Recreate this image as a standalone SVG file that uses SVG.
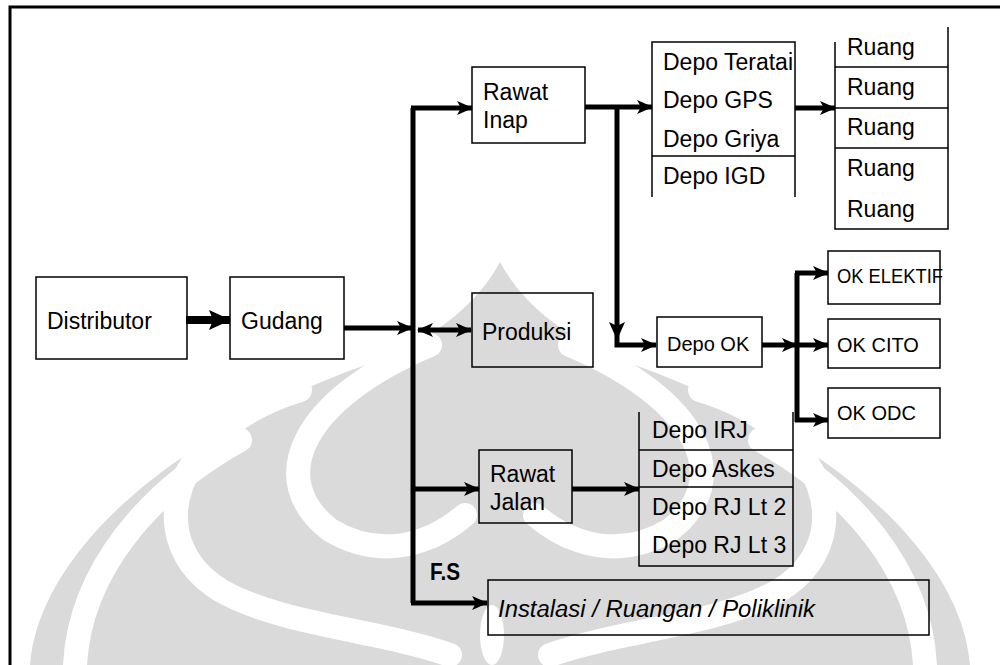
<svg xmlns="http://www.w3.org/2000/svg" width="1000" height="665" viewBox="0 0 1000 665">
<style>
text{font-family:"Liberation Sans",Arial,sans-serif;font-size:23px;fill:#000}
.sm{font-size:20px}
.box{fill:none;stroke:#000;stroke-width:1.5}
.wbox{fill:#fff;stroke:#000;stroke-width:1.5}
.ln{fill:none;stroke:#000;stroke-width:1.5}
.c{fill:none;stroke:#000;stroke-width:5}
.wm{fill:#dadada}
.wb{fill:none;stroke:#fff;stroke-width:24;stroke-linecap:round}
</style>
<defs>
<marker id="ah" markerWidth="16" markerHeight="14" refX="15" refY="7" orient="auto-start-reverse" markerUnits="userSpaceOnUse">
<path d="M0,0 L16,7 L0,14 L4,7 Z" fill="#000"/>
</marker>
<marker id="ahb" markerWidth="22" markerHeight="20" refX="21" refY="10" orient="auto" markerUnits="userSpaceOnUse">
<path d="M0,0 L22,10 L0,20 L4,10 Z" fill="#000"/>
</marker>
</defs>
<rect width="1000" height="665" fill="#fff"/>
<g id="watermark">
<path class="wm" d="M30,665 C40,540 200,420 380,360 C440,335 480,300 500,262 C520,300 560,335 620,360 C800,420 960,540 970,665 Z"/>
<path class="wb" d="M75,665 C80,570 150,490 240,440"/>
<path class="wb" d="M925,665 C920,570 850,490 760,440"/>
<path class="wb" d="M300,390 C170,430 140,540 220,590 C280,625 380,630 450,655"/>
<path class="wb" d="M700,390 C830,430 860,540 780,590 C720,625 620,630 550,655"/>
<path class="wb" d="M430,345 C300,400 265,480 330,530 C380,560 430,545 465,515"/>
<path class="wb" d="M570,345 C700,400 735,480 670,530 C620,560 570,545 535,515"/>
<ellipse cx="492" cy="635" rx="12" ry="30" fill="#fff"/>
</g>
<g id="frame" fill="none" stroke="#000" stroke-width="3">
<path d="M10,665 V7 H1000"/>
</g>
<g id="connectors">
<line x1="186" y1="320" x2="230" y2="320" stroke="#000" stroke-width="8" marker-end="url(#ahb)"/>
<line x1="344" y1="328" x2="412" y2="328" class="c" stroke-width="4" marker-end="url(#ah)"/>
<path class="c" d="M413,603 V108"/>
<line x1="411" y1="108" x2="472" y2="108" class="c" marker-end="url(#ah)"/>
<line x1="418" y1="330" x2="471" y2="330" class="c" stroke-width="4" marker-start="url(#ah)" marker-end="url(#ah)"/>
<line x1="411" y1="489" x2="479" y2="489" class="c" marker-end="url(#ah)"/>
<line x1="411" y1="603" x2="487" y2="603" class="c" marker-end="url(#ah)"/>
<line x1="585" y1="107" x2="652" y2="107" class="c" marker-end="url(#ah)"/>
<path class="c" d="M617,107 V345 H656" marker-end="url(#ah)"/>
<path d="M609,322 L617,340 L625,322 L617,326 Z" fill="#000"/>
<line x1="795" y1="108" x2="835" y2="108" class="c" stroke-width="6" marker-end="url(#ah)"/>
<line x1="762" y1="345" x2="797" y2="345" class="c" marker-end="url(#ah)"/>
<path class="c" d="M797,273 V422"/>
<line x1="795" y1="273" x2="828" y2="273" class="c" marker-end="url(#ah)"/>
<line x1="795" y1="345" x2="828" y2="345" class="c" marker-end="url(#ah)"/>
<line x1="795" y1="420" x2="828" y2="420" class="c" marker-end="url(#ah)"/>
<line x1="572" y1="489" x2="639" y2="489" class="c" stroke-width="6" marker-end="url(#ah)"/>
</g>
<g id="distributor">
<rect class="box" x="36" y="277" width="151" height="82"/>
<text x="47" y="329">Distributor</text>
</g>
<g id="gudang">
<rect class="box" x="230" y="277" width="114" height="82"/>
<text x="241" y="329">Gudang</text>
</g>
<g id="rawat-inap">
<rect class="box" x="472" y="67" width="113" height="76"/>
<text x="483" y="100">Rawat</text>
<text x="483" y="128">Inap</text>
</g>
<g id="produksi">
<rect class="box" x="472" y="293" width="121" height="74"/>
<text x="482" y="340">Produksi</text>
</g>
<g id="depo-inap">
<path class="ln" d="M652,197 V42 H795 V197 M652,156 H795"/>
<text x="663" y="70">Depo Teratai</text>
<text x="663" y="108">Depo GPS</text>
<text x="663" y="147">Depo Griya</text>
<text x="663" y="184">Depo IGD</text>
</g>
<g id="ruang">
<path class="ln" d="M835,42 V229 H948 V27 M835,67 H948 M835,108 H948 M835,148 H948"/>
<text x="847" y="55">Ruang</text>
<text x="847" y="95">Ruang</text>
<text x="847" y="135">Ruang</text>
<text x="847" y="176">Ruang</text>
<text x="847" y="217">Ruang</text>
</g>
<g id="depo-ok">
<rect class="wbox" x="657" y="317" width="105" height="50"/>
<text class="sm" x="667" y="351">Depo OK</text>
</g>
<g id="ok-elektif">
<rect class="wbox" x="828" y="251" width="112" height="53"/>
<text class="sm" x="837" y="283" textLength="106" lengthAdjust="spacingAndGlyphs">OK ELEKTIF</text>
</g>
<g id="ok-cito">
<rect class="wbox" x="828" y="319" width="112" height="49"/>
<text class="sm" x="837" y="352">OK CITO</text>
</g>
<g id="ok-odc">
<rect class="wbox" x="828" y="388" width="112" height="50"/>
<text class="sm" x="837" y="420">OK ODC</text>
</g>
<g id="rawat-jalan">
<rect class="box" x="479" y="450" width="93" height="73"/>
<text x="490" y="482">Rawat</text>
<text x="490" y="510">Jalan</text>
</g>
<g id="depo-jalan">
<path class="ln" d="M639,412 V566 H793 V412 M639,450 H793 M639,487 H793"/>
<text x="652" y="438">Depo IRJ</text>
<text x="652" y="477">Depo Askes</text>
<text x="652" y="515">Depo RJ Lt 2</text>
<text x="652" y="553">Depo RJ Lt 3</text>
</g>
<g id="fs-label">
<text x="430" y="580" font-size="17" font-weight="bold" textLength="30" lengthAdjust="spacingAndGlyphs">F.S</text>
</g>
<g id="instalasi">
<rect class="box" x="488" y="580" width="441" height="55"/>
<text x="498" y="617" font-size="25" font-style="italic" textLength="317" lengthAdjust="spacingAndGlyphs">Instalasi / Ruangan / Poliklinik</text>
</g>
</svg>
